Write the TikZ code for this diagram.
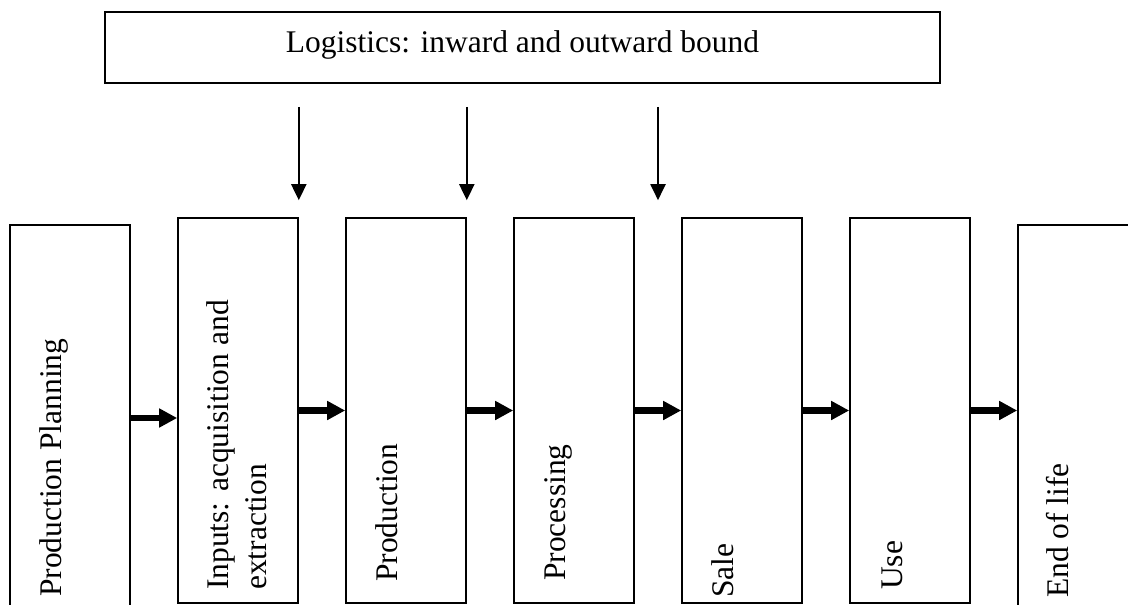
\documentclass[tikz,border=0pt]{standalone}
\usepackage{fontspec}
\setmainfont{Liberation Serif}
\usetikzlibrary{arrows.meta,calc}
\begin{document}
\begin{tikzpicture}[x=1pt,y=-1pt,
  box/.style={draw, line width=1.6pt, rectangle, inner sep=0pt, minimum width=120pt, minimum height=385pt},
  tallbox/.style={box, minimum height=386pt},
  lbl/.style={rotate=90, anchor=base west, inner sep=0pt, font=\fontsize{31.5}{38}\selectfont, align=left},
  toplbl/.style={anchor=base, inner sep=0pt, font=\fontsize{31.5}{36.5}\selectfont},
  harrow/.style={line width=6.8pt, -{Triangle[length=18pt,width=18pt]}},
  varrow/.style={line width=2pt, -{Triangle[length=16pt,width=15pt]}}]
\useasboundingbox (0,0) rectangle (1128,605);
\clip (0,0) rectangle (1128,605);
% top box
\node[draw, line width=1.6pt, rectangle, inner sep=0pt, minimum width=835pt, minimum height=71pt] (logi) at (522.5,47.5) {};
\node[toplbl] (tlogi) at (522.5,52) {Logistics: inward and outward bound};
% stage boxes
\node[tallbox] (b1) at (70,418) {};
\node[box] (b2) at (238,410.5) {};
\node[box] (b3) at (406,410.5) {};
\node[box] (b4) at (574,410.5) {};
\node[box] (b5) at (742,410.5) {};
\node[box] (b6) at (910,410.5) {};
\node[tallbox] (b7) at (1078,418) {};
% labels (anchor is the baseline of the last line)
\node[lbl] (t1) at (61,597) {Production Planning};
\node[lbl] (t2) at (266,590) {Inputs: acquisition and\\extraction};
\node[lbl] (t3) at (397,582) {Production};
\node[lbl] (t4) at (565,581) {Processing};
\node[lbl] (t5) at (733,598) {Sale};
\node[lbl] (t6) at (902,590) {Use};
\node[lbl] (t7) at (1068,598) {End of life};
% horizontal arrows
\draw[harrow] (b1.east) -- (b1.east -| b2.west);
\draw[harrow] (b2.east) -- (b3.west);
\draw[harrow] (b3.east) -- (b4.west);
\draw[harrow] (b4.east) -- (b5.west);
\draw[harrow] (b5.east) -- (b6.west);
\draw[harrow] (b6.east) -- (b6.east -| b7.west);
% vertical arrows
\coordinate (g45) at ($(b4.north east)!0.5!(b5.north west)$);
\draw[varrow] ([yshift=-23pt]logi.south -| b2.east) -- ([yshift=17pt]b2.north east);
\draw[varrow] ([yshift=-23pt]logi.south -| b3.east) -- ([yshift=17pt]b3.north east);
\draw[varrow] ([yshift=-23pt]logi.south -| g45) -- ([yshift=17pt]g45);
\end{tikzpicture}
\end{document}
